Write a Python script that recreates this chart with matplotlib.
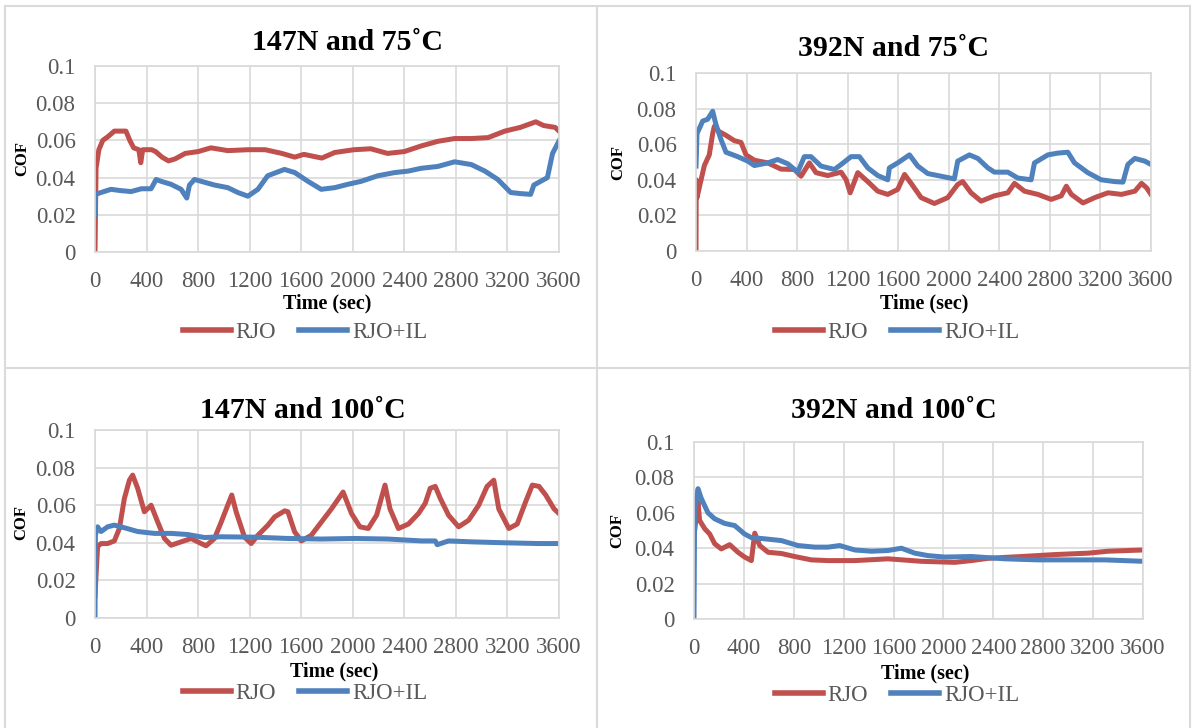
import matplotlib
matplotlib.use("Agg")
import matplotlib.pyplot as plt
from matplotlib.lines import Line2D

plt.rcParams['font.family'] = ['Liberation Serif', 'DejaVu Serif']

# ---- data (time in s, COF) ----
titles = ["147N and 75˚C", "392N and 75˚C", "147N and 100˚C", "392N and 100˚C"]
series_names = ["RJO", "RJO+IL"]

p1_rjo_t = [0, 8, 30, 60, 100, 150, 200, 240, 270, 300, 340, 355, 370, 440, 470,
            520, 570, 620, 700, 800, 900, 1030, 1190, 1320, 1450, 1550, 1620, 1760,
            1860, 2010, 2140, 2270, 2400, 2530, 2660, 2790, 2920, 3050, 3180, 3300,
            3420, 3480, 3570, 3600]
p1_rjo = [0.0, 0.045, 0.055, 0.060, 0.062, 0.065, 0.065, 0.065, 0.060, 0.056, 0.055,
          0.048, 0.055, 0.055, 0.054, 0.051, 0.049, 0.050, 0.053, 0.054, 0.056, 0.0545,
          0.055, 0.055, 0.053, 0.051, 0.0525, 0.0505, 0.0535, 0.055, 0.0555, 0.053,
          0.054, 0.057, 0.0595, 0.061, 0.061, 0.0615, 0.065, 0.067, 0.070, 0.068,
          0.067, 0.065]
p1_il_t = [0, 5, 47, 124, 200, 280, 360, 435, 474, 513, 590, 668, 712, 733, 772,
           824, 927, 1030, 1108, 1186, 1264, 1340, 1470, 1550, 1652, 1755, 1860, 1962,
           2065, 2195, 2325, 2430, 2530, 2660, 2790, 2920, 3025, 3125, 3225, 3300,
           3380, 3405, 3510, 3550, 3600]
p1_il = [0.020, 0.031, 0.032, 0.0337, 0.033, 0.0325, 0.034, 0.034, 0.039, 0.038,
         0.0364, 0.0337, 0.029, 0.036, 0.039, 0.038, 0.036, 0.0346, 0.032, 0.030,
         0.0337, 0.041, 0.0444, 0.0427, 0.038, 0.0337, 0.0346, 0.0364, 0.038, 0.041,
         0.0427, 0.0435, 0.045, 0.046, 0.0485, 0.047, 0.0435, 0.039, 0.032, 0.0314,
         0.031, 0.036, 0.040, 0.053, 0.0597]

p2_rjo_t = [0, 2, 8, 66, 105, 132, 145, 185, 237, 303, 356, 396, 462, 567, 673, 778,
            831, 897, 950, 1042, 1148, 1188, 1220, 1280, 1359, 1438, 1517, 1596, 1650,
            1702, 1781, 1886, 1992, 2071, 2110, 2176, 2256, 2361, 2467, 2520, 2599,
            2705, 2810, 2890, 2930, 2970, 3062, 3155, 3260, 3366, 3472, 3525, 3565, 3600]
p2_rjo = [0.0, 0.040, 0.030, 0.048, 0.054, 0.066, 0.070, 0.067, 0.065, 0.062, 0.061,
          0.054, 0.051, 0.0495, 0.046, 0.0458, 0.042, 0.0495, 0.044, 0.0424, 0.0443,
          0.040, 0.0327, 0.044, 0.039, 0.0336, 0.0318, 0.0346, 0.043, 0.038, 0.030,
          0.0267, 0.030, 0.0374, 0.039, 0.0327, 0.028, 0.031, 0.0327, 0.038, 0.0336,
          0.0318, 0.029, 0.031, 0.0364, 0.0318, 0.027, 0.030, 0.0327, 0.0318, 0.0336,
          0.038, 0.0355, 0.0318]
p2_il_t = [0, 8, 53, 92, 132, 158, 198, 237, 330, 409, 462, 567, 646, 726, 805, 857,
           910, 989, 1095, 1148, 1227, 1293, 1359, 1438, 1517, 1530, 1596, 1689, 1755,
           1834, 1939, 2044, 2071, 2163, 2230, 2309, 2361, 2467, 2546, 2652, 2678,
           2784, 2863, 2942, 2995, 3100, 3206, 3312, 3378, 3417, 3472, 3551, 3600]
p2_il = [0.0477, 0.066, 0.073, 0.074, 0.0785, 0.071, 0.0626, 0.0555, 0.053, 0.0505,
         0.048, 0.0495, 0.0514, 0.049, 0.0443, 0.053, 0.053, 0.0477, 0.0458, 0.0486,
         0.053, 0.053, 0.0467, 0.0424, 0.040, 0.0467, 0.0495, 0.054, 0.0477, 0.0435,
         0.042, 0.0405, 0.0505, 0.054, 0.052, 0.0467, 0.0443, 0.0443, 0.041, 0.040,
         0.0495, 0.054, 0.055, 0.0555, 0.0495, 0.044, 0.040, 0.039, 0.0387, 0.0486,
         0.052, 0.0505, 0.0486]

p3_rjo_t = [0, 20, 47, 98, 150, 189, 228, 267, 292, 331, 383, 435, 487, 539, 590, 668,
            746, 824, 862, 927, 979, 1030, 1061, 1095, 1160, 1212, 1264, 1342, 1394,
            1472, 1497, 1549, 1601, 1678, 1756, 1834, 1925, 1990, 2055, 2120, 2185,
            2250, 2289, 2354, 2432, 2510, 2562, 2601, 2640, 2679, 2743, 2821, 2899,
            2977, 3042, 3094, 3133, 3211, 3276, 3341, 3393, 3445, 3497, 3562, 3600]
p3_rjo = [0.012, 0.038, 0.0396, 0.0396, 0.041, 0.0476, 0.0636, 0.0733, 0.076, 0.069,
          0.0565, 0.060, 0.051, 0.0423, 0.0387, 0.0405, 0.0423, 0.0396, 0.0384, 0.0423,
          0.051, 0.060, 0.0654, 0.0565, 0.043, 0.0396, 0.044, 0.0494, 0.0538, 0.057,
          0.0565, 0.0458, 0.041, 0.044, 0.051, 0.058, 0.067, 0.0556, 0.0485, 0.0476,
          0.0547, 0.0707, 0.058, 0.0476, 0.050, 0.0556, 0.061, 0.069, 0.070, 0.0636,
          0.0547, 0.0485, 0.052, 0.060, 0.070, 0.0733, 0.058, 0.0476, 0.050, 0.0618,
          0.0707, 0.070, 0.0654, 0.058, 0.0556]
p3_il_t = [0, 3, 20, 47, 98, 150, 228, 331, 461, 590, 720, 850, 979, 1238, 1497, 1756,
           2015, 2274, 2532, 2640, 2655, 2743, 2925, 3185, 3445, 3600]
p3_il = [0.0, 0.044, 0.0485, 0.046, 0.0485, 0.0494, 0.048, 0.046, 0.045, 0.045, 0.0444,
         0.0428, 0.0432, 0.043, 0.0423, 0.042, 0.0423, 0.042, 0.041, 0.041, 0.039, 0.041,
         0.0405, 0.040, 0.0396, 0.0396]

p4_rjo_t = [5, 32, 45, 86, 126, 166, 219, 286, 353, 406, 460, 487, 527, 594, 701, 807,
            941, 1075, 1289, 1556, 1823, 2091, 2225, 2358, 2626, 2893, 3160, 3320, 3600]
p4_rjo = [0.050, 0.066, 0.0557, 0.051, 0.048, 0.0425, 0.0396, 0.042, 0.0377, 0.035,
          0.033, 0.0485, 0.0415, 0.0377, 0.037, 0.0353, 0.0334, 0.033, 0.033, 0.034,
          0.0326, 0.032, 0.033, 0.0343, 0.0353, 0.0364, 0.0372, 0.0383, 0.039]
p4_il_t = [0, 5, 32, 59, 112, 166, 246, 326, 406, 460, 567, 701, 834, 968, 1075, 1168,
           1289, 1422, 1556, 1663, 1770, 1877, 2010, 2225, 2492, 2760, 3027, 3294, 3600]
p4_il = [0.0, 0.060, 0.0736, 0.068, 0.060, 0.0566, 0.054, 0.0528, 0.048, 0.046, 0.0453,
         0.0443, 0.0415, 0.0406, 0.0406, 0.0415, 0.039, 0.0383, 0.0387, 0.040, 0.0372,
         0.0358, 0.035, 0.0353, 0.034, 0.0334, 0.0334, 0.0334, 0.0326]

x_ticks = list(range(0, 3601, 400))
y_ticks = [0, 0.02, 0.04, 0.06, 0.08, 0.1]
y_tick_labels = ["0", "0.02", "0.04", "0.06", "0.08", "0.1"]

panel_data = [
    ((p1_rjo_t, p1_rjo), (p1_il_t, p1_il)),
    ((p2_rjo_t, p2_rjo), (p2_il_t, p2_il)),
    ((p3_rjo_t, p3_rjo), (p3_il_t, p3_il)),
    ((p4_rjo_t, p4_rjo), (p4_il_t, p4_il)),
]

# ---- layout in pixels of the 1192x728 picture ----
W, H = 1192, 728
# plot box (left, top, right, bottom), title (x, baseline), legend, xlabel, ylabel centres
layout = [
    dict(box=(95, 66, 559, 252), title=(347, 50), legend=(305, 332), xlab=(327, 303), ylab=(22, 159)),
    dict(box=(696, 73, 1151, 251), title=(894, 56), legend=(897, 332), xlab=(924, 303), ylab=(618, 162)),
    dict(box=(95, 430, 559, 618), title=(303, 418), legend=(305, 693), xlab=(334, 671), ylab=(21, 522)),
    dict(box=(694, 442, 1143, 619), title=(894, 418), legend=(897, 695), xlab=(925, 673), ylab=(617, 530)),
]

colors = ["#C0504D", "#4F81BD"]
grid_color = "#D9D9D9"
text_gray = "#595959"

fig = plt.figure(figsize=(W / 100, H / 100), dpi=100)

# cell borders of the table the charts sit in
border = dict(color="#DADADA", lw=1.5, transform=fig.transFigure)
fig.add_artist(Line2D([5 / W, 1190 / W], [1 - 6 / H, 1 - 6 / H], **border))
fig.add_artist(Line2D([5 / W, 5 / W], [1 - 6 / H, 0], **border))
fig.add_artist(Line2D([1190 / W, 1190 / W], [1 - 6 / H, 0], **border))
fig.add_artist(Line2D([597 / W, 597 / W], [1 - 6 / H, 0], **border))
fig.add_artist(Line2D([5 / W, 1190 / W], [1 - 368 / H, 1 - 368 / H], **border))

for title, series, lay in zip(titles, panel_data, layout):
    x0, y1, x1, y0 = lay["box"]
    pw, ph = x1 - x0, y0 - y1
    ax = fig.add_axes([x0 / W, 1 - y0 / H, pw / W, ph / H])

    # helper: pixel -> axes fraction
    def ax_frac(px, py):
        return (px - x0) / pw, (y0 - py) / ph

    for (t, v), name, c in zip(series, series_names, colors):
        ax.plot(t, v, color=c, lw=3.6, label=name, solid_joinstyle="round")

    ax.set_xlim(0, 3600)
    ax.set_ylim(0, 0.1)
    ax.set_xticks(x_ticks)
    ax.set_xticklabels([str(t) for t in x_ticks])
    ax.set_yticks(y_ticks)
    ax.set_yticklabels(y_tick_labels)
    ax.tick_params(axis="both", length=0, labelsize=16.5, labelcolor=text_gray)
    ax.tick_params(axis="x", pad=14)
    ax.tick_params(axis="y", pad=14)
    ax.grid(True, color=grid_color, lw=1.2)
    ax.set_axisbelow(True)
    for s in ax.spines.values():
        s.set_color(grid_color)
        s.set_linewidth(1.2)

    tx, ty = ax_frac(*lay["title"])
    ax.text(tx, ty, title, transform=ax.transAxes, ha="center", va="baseline",
            fontsize=21.5, fontweight="bold", color="black")

    ax.set_xlabel("Time (sec)", fontsize=14.5, fontweight="bold", va="center")
    ax.xaxis.set_label_coords(*ax_frac(*lay["xlab"]))
    ax.set_ylabel("COF", fontsize=12, fontweight="bold", va="center")
    ax.yaxis.set_label_coords(*ax_frac(*lay["ylab"]))

    lx, ly = ax_frac(*lay["legend"])
    leg = ax.legend(loc="center", bbox_to_anchor=(lx, ly), ncol=2, frameon=False,
                    fontsize=16.5, handlelength=2.1, handletextpad=0.2,
                    columnspacing=1.0, borderpad=0)
    for txt in leg.get_texts():
        txt.set_color(text_gray)
    for ln in leg.get_lines():
        ln.set_linewidth(4)

fig.savefig("out.png", dpi=100, facecolor="white")
